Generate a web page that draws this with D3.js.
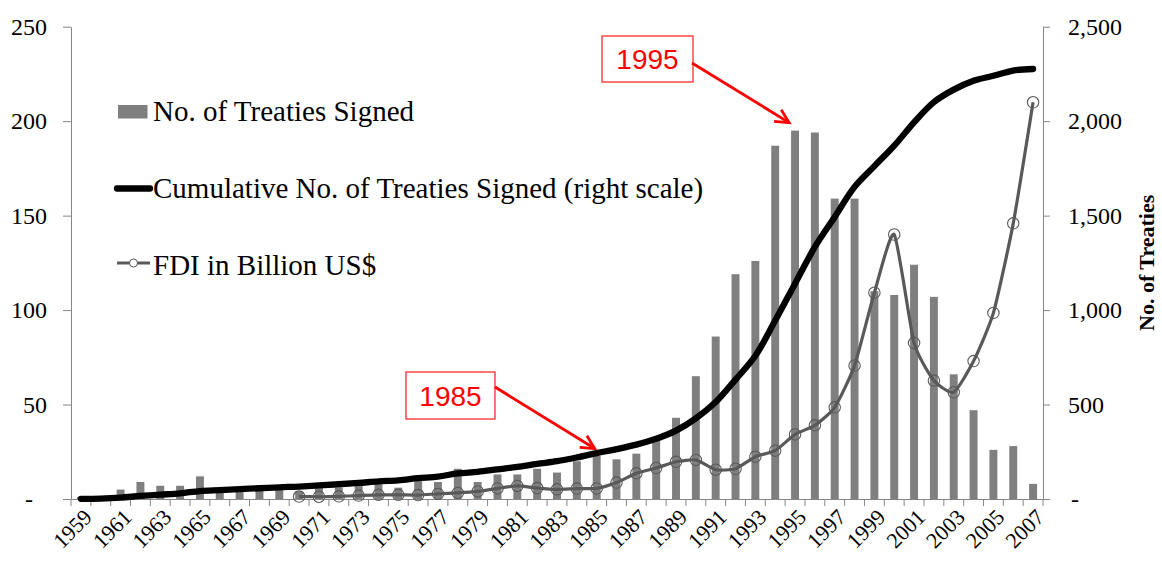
<!DOCTYPE html>
<html><head><meta charset="utf-8">
<script src="https://cdn.jsdelivr.net/npm/d3@7"></script>
<style>body{margin:0;background:#fff} svg{display:block}</style>
</head><body>
<svg id="chart" width="1162" height="565"></svg>
<script>
const years = [1959,1960,1961,1962,1963,1964,1965,1966,1967,1968,1969,1970,1971,1972,1973,1974,1975,1976,1977,1978,1979,1980,1981,1982,1983,1984,1985,1986,1987,1988,1989,1990,1991,1992,1993,1994,1995,1996,1997,1998,1999,2000,2001,2002,2003,2004,2005,2006,2007];
const treatiesSigned = [1,1,5,9,7,7,12,5,5,5,5,4,6,6,7,8,6,11,9,16,9,13,13,16,14,20,23,21,24,31,43,65,86,119,126,187,195,194,159,159,110,108,124,107,66,47,26,28,8];
const cumulativeTreaties = [1,2,7,16,23,30,42,47,52,57,62,66,72,78,85,93,99,110,119,135,144,157,170,186,200,220,243,264,288,319,362,427,513,632,758,945,1140,1334,1493,1652,1762,1870,1994,2101,2167,2214,2240,2268,2276];
const fdiBillionUSD = [null,null,null,null,null,null,null,null,null,null,null,13,12,14,18,22,22,21,27,32,40,56,69,58,51,55,56,87,136,164,197,207,155,160,224,256,342,390,485,706,1092,1400,826,627,565,730,985,1459,2100];
const leftTicks = [0,50,100,150,200,250];
const rightTicks = [0,500,1000,1500,2000,2500];
const xLabelYears = years.filter((d,i) => i % 2 === 0);
const legendLabels = ["No. of Treaties Signed","Cumulative No. of Treaties Signed (right scale)","FDI in Billion US$"];
const rightAxisTitle = "No. of Treaties";
const annotationYears = [1995, 1985];

const svg = d3.select("#chart");
const M = {left:71, right:1043, top:26.7, bottom:499};
const serif = "'Liberation Serif','Times New Roman',serif";
const axisGray = "#868686";

const x = d3.scaleBand().domain(years).range([M.left, M.right]).paddingInner(0.6).paddingOuter(0.3);
const cx = d => x(d) + x.bandwidth()/2;
const yL = d3.scaleLinear().domain([0,250]).range([M.bottom, M.top]);
const yR = d3.scaleLinear().domain([0,2500]).range([M.bottom, M.top]);
const fmt = d3.format(",");

// bars
svg.append("g").selectAll("rect").data(years).join("rect")
  .attr("x", d => x(d)).attr("width", x.bandwidth())
  .attr("y", (d,i) => yL(treatiesSigned[i]))
  .attr("height", (d,i) => yL(0) - yL(treatiesSigned[i]))
  .attr("fill", "#7f7f7f");

// axes
function styleAxis(g, size){
  g.select(".domain").attr("stroke", axisGray);
  g.selectAll(".tick line").attr("stroke", axisGray);
  g.selectAll(".tick text").attr("fill","#000").style("font-family", serif).style("font-size", size);
}
const gL = svg.append("g").attr("transform",`translate(${M.left},0)`)
  .call(d3.axisLeft(yL).tickValues(leftTicks).tickSize(8).tickSizeOuter(0).tickPadding(16)
    .tickFormat(d => d === 0 ? "-" : fmt(d)));
styleAxis(gL, "24px");
gL.selectAll(".tick text").filter(d => d === 0).attr("dx", -14);

const gR = svg.append("g").attr("transform",`translate(${M.right},0)`)
  .call(d3.axisRight(yR).tickValues(rightTicks).tickSize(7).tickSizeOuter(0).tickPadding(18)
    .tickFormat(d => d === 0 ? "-" : fmt(d)));
styleAxis(gR, "24px");
gR.selectAll(".tick text").filter(d => d === 0).attr("dx", 3);

const gX = svg.append("g").attr("transform",`translate(0,${M.bottom})`)
  .call(d3.axisBottom(x).tickValues(xLabelYears).tickSize(0).tickSizeOuter(0));
styleAxis(gX, "22px");
gX.selectAll(".tick text")
  .attr("text-anchor","end").attr("x",0).attr("y",0).attr("dy","0.35em")
  .attr("transform","translate(7,14) rotate(-45)");
// category boundary ticks
const bounds = years.map(d => x(d) - x.step()*x.paddingInner()/2).concat([M.right]);
svg.append("g").selectAll("line").data(bounds).join("line")
  .attr("x1", d => d).attr("x2", d => d)
  .attr("y1", M.bottom).attr("y2", M.bottom + 7)
  .attr("stroke", axisGray);

// right axis title
svg.append("text").attr("transform",`translate(1154,${(M.top+M.bottom)/2}) rotate(-90)`)
  .attr("text-anchor","middle").style("font-family",serif).style("font-size","22px")
  .style("font-weight","bold").text(rightAxisTitle);

// cumulative line
const cumLine = d3.line().x((d,i) => cx(years[i])).y(d => yR(d)).curve(d3.curveCatmullRom.alpha(0.5));
svg.append("path").datum(cumulativeTreaties).attr("d", cumLine)
  .attr("fill","none").attr("stroke","#000").attr("stroke-width",6.3).attr("stroke-linejoin","round").attr("stroke-linecap","round");

// FDI line
const fdiPts = years.map((d,i) => ({year:d, v:fdiBillionUSD[i]})).filter(p => p.v != null);
const fdiLine = d3.line().x(p => cx(p.year)).y(p => yR(p.v)).curve(d3.curveCardinal.tension(0.45));
svg.append("path").datum(fdiPts).attr("d", fdiLine)
  .attr("fill","none").attr("stroke","#595959").attr("stroke-width",3.2).attr("stroke-linejoin","round");
svg.append("g").selectAll("circle").data(fdiPts).join("circle")
  .attr("cx", p => cx(p.year)).attr("cy", p => yR(p.v)).attr("r",5.7)
  .attr("fill","none").attr("stroke","#595959").attr("stroke-width",1.1);

// legend
const lg = svg.append("g");
lg.append("rect").attr("x",118).attr("y",105).attr("width",29.5).attr("height",13.5).attr("fill","#7f7f7f");
lg.append("line").attr("x1",117).attr("x2",150).attr("y1",188.5).attr("y2",188.5)
  .attr("stroke","#000").attr("stroke-width",6.3).attr("stroke-linecap","round");
lg.append("line").attr("x1",117).attr("x2",150).attr("y1",263).attr("y2",263)
  .attr("stroke","#595959").attr("stroke-width",3);
lg.append("circle").attr("cx",133.5).attr("cy",263).attr("r",4).attr("fill","#fff").attr("stroke","#595959").attr("stroke-width",1);
const legendBase = [121, 197.5, 275];
lg.selectAll("text").data(legendLabels).join("text")
  .attr("x",153).attr("y",(d,i) => legendBase[i])
  .style("font-family",serif).style("font-size","29px").attr("fill","#000").text(d => d);

// annotations
const annLayout = {
  1995: {box:[602,36,91,46], start:[692,63], tipDx:-6, tipDy:-8},
  1985: {box:[406,372,89,47], start:[495,387], tipDx:-2, tipDy:-7}
};
annotationYears.forEach(yr => {
  const L = annLayout[yr];
  const i = years.indexOf(yr);
  const tip = [cx(yr) + L.tipDx, yL(treatiesSigned[i]) + L.tipDy];
  const g = svg.append("g");
  g.append("rect").attr("x",L.box[0]).attr("y",L.box[1]).attr("width",L.box[2]).attr("height",L.box[3])
    .attr("fill","#fff").attr("stroke","#ff2a2a").attr("stroke-width",1.3);
  g.append("text").attr("x",L.box[0]+L.box[2]/2).attr("y",L.box[1]+L.box[3]/2).attr("dy","0.36em")
    .attr("text-anchor","middle").style("font-family","'Liberation Sans',Arial,sans-serif")
    .style("font-size","28px").attr("fill","#ff0000").text(String(yr));
  g.append("line").attr("x1",L.start[0]).attr("y1",L.start[1]).attr("x2",tip[0]).attr("y2",tip[1])
    .attr("stroke","#ff0000").attr("stroke-width",2.8);
  const ang = Math.atan2(L.start[1]-tip[1], L.start[0]-tip[0]);
  const len = 15, spread = 27*Math.PI/180;
  const a1 = [tip[0]+len*Math.cos(ang-spread), tip[1]+len*Math.sin(ang-spread)];
  const a2 = [tip[0]+len*Math.cos(ang+spread), tip[1]+len*Math.sin(ang+spread)];
  g.append("path").attr("d",`M${a1[0]},${a1[1]}L${tip[0]},${tip[1]}L${a2[0]},${a2[1]}`)
    .attr("fill","none").attr("stroke","#ff0000").attr("stroke-width",2.8).attr("stroke-linejoin","miter");
});
</script>
</body></html>
